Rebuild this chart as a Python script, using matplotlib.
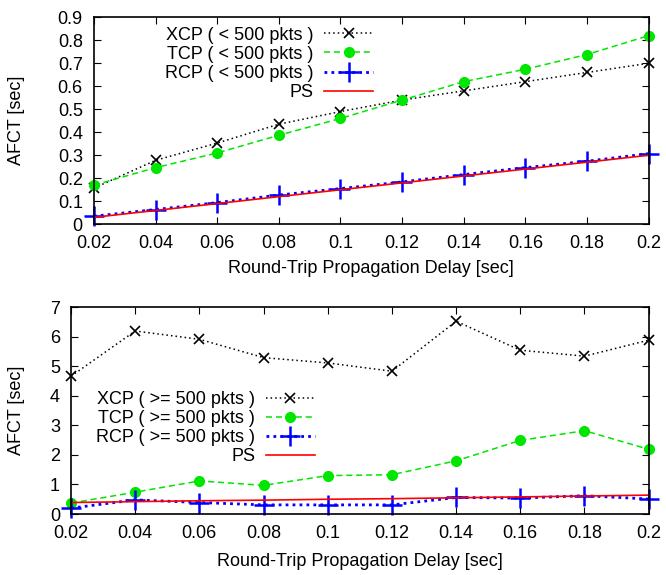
import matplotlib
matplotlib.use('Agg')
import matplotlib.pyplot as plt
import numpy as np

plt.rcParams['font.family'] = ['Liberation Sans', 'DejaVu Sans']
plt.rcParams['font.size'] = 13

############################################
#   data
############################################
delay = [0.02, 0.04, 0.06, 0.08, 0.10, 0.12, 0.14, 0.16, 0.18, 0.20]

# short flows (< 500 pkts)
xcp_short = [0.157, 0.278, 0.353, 0.435, 0.490, 0.540, 0.580, 0.620, 0.660, 0.700]
tcp_short = [0.170, 0.246, 0.310, 0.387, 0.460, 0.540, 0.620, 0.674, 0.738, 0.820]
rcp_short = [0.035, 0.064, 0.094, 0.127, 0.155, 0.184, 0.216, 0.246, 0.274, 0.307]
ps_short  = [0.030, 0.060, 0.090, 0.120, 0.150, 0.180, 0.210, 0.240, 0.270, 0.300]

# long flows (>= 500 pkts)
xcp_long = [4.66, 6.19, 5.91, 5.29, 5.11, 4.83, 6.52, 5.54, 5.34, 5.88]
tcp_long = [0.37, 0.74, 1.12, 0.97, 1.30, 1.33, 1.80, 2.49, 2.82, 2.19]
rcp_long = [0.20, 0.48, 0.39, 0.31, 0.31, 0.31, 0.56, 0.54, 0.62, 0.51]
ps_long  = [0.39, 0.42, 0.45, 0.47, 0.50, 0.52, 0.55, 0.58, 0.61, 0.64]

xticks       = [0.02, 0.04, 0.06, 0.08, 0.1, 0.12, 0.14, 0.16, 0.18, 0.2]
xtick_labels = ['0.02', '0.04', '0.06', '0.08', '0.1', '0.12', '0.14', '0.16', '0.18', '0.2']
yticks_top   = [0, 0.1, 0.2, 0.3, 0.4, 0.5, 0.6, 0.7, 0.8, 0.9]
ylabels_top  = ['0', '0.1', '0.2', '0.3', '0.4', '0.5', '0.6', '0.7', '0.8', '0.9']
yticks_bot   = [0, 1, 2, 3, 4, 5, 6, 7]

GREEN = '#00e600'
FS = 13

############################################
#   figure
############################################
fig = plt.figure(figsize=(6.66, 5.75), dpi=100)
ax1 = fig.add_axes([0.141, 0.610, 0.833, 0.360])
ax2 = fig.add_axes([0.1066, 0.106, 0.8674, 0.360])


def draw(ax, xcp, tcp, rcp, ps, tag):
    ax.plot(delay, xcp, color='black', ls=(0, (1, 2)), lw=1.1, marker='x',
            ms=7, mew=1.2, clip_on=False, label='XCP ( %s pkts )' % tag)
    ax.plot(delay, tcp, color=GREEN, ls=(0, (4, 2.5)), lw=1.1, marker='o',
            ms=7, clip_on=False, label='TCP ( %s pkts )' % tag)
    ax.plot(delay, rcp, color='blue', ls=(0, (1, 1.5)), lw=2, marker='+',
            ms=14, mew=1.8, clip_on=False, label='RCP ( %s pkts )' % tag)
    ax.plot(delay, ps, color='red', ls='-', lw=1.2, clip_on=False, label='PS')
    ax.set_xlim(0.02, 0.2)
    ax.set_xticks(xticks)
    ax.set_xticklabels(xtick_labels)
    ax.tick_params(direction='in', top=True, right=True, length=5,
                   labelsize=FS, pad=8)
    ax.set_xlabel('Round-Trip Propagation Delay [sec]', fontsize=FS)
    ax.set_ylabel('AFCT [sec]', fontsize=FS)
    for s in ax.spines.values():
        s.set_linewidth(1.2)


def legend(ax, x, y):
    ax.legend(loc='upper right', bbox_to_anchor=(x, y), markerfirst=False,
              frameon=False, borderpad=0, borderaxespad=0, handlelength=2.7,
              handletextpad=0.6, labelspacing=0.12, fontsize=FS)


draw(ax1, xcp_short, tcp_short, rcp_short, ps_short, '< 500')
ax1.set_ylim(0, 0.9)
ax1.set_yticks(yticks_top)
ax1.set_yticklabels(ylabels_top)
ax1.yaxis.set_label_coords(-0.124, 0.5)
ax1.xaxis.set_label_coords(0.5, -0.174)
legend(ax1, 0.503, 0.955)

draw(ax2, xcp_long, tcp_long, rcp_long, ps_long, '>= 500')
ax2.set_ylim(0, 7)
ax2.set_yticks(yticks_bot)
ax2.yaxis.set_label_coords(-0.080, 0.5)
ax2.xaxis.set_label_coords(0.5, -0.188)
legend(ax2, 0.422, 0.595)

fig.savefig('out.png', dpi=100)
